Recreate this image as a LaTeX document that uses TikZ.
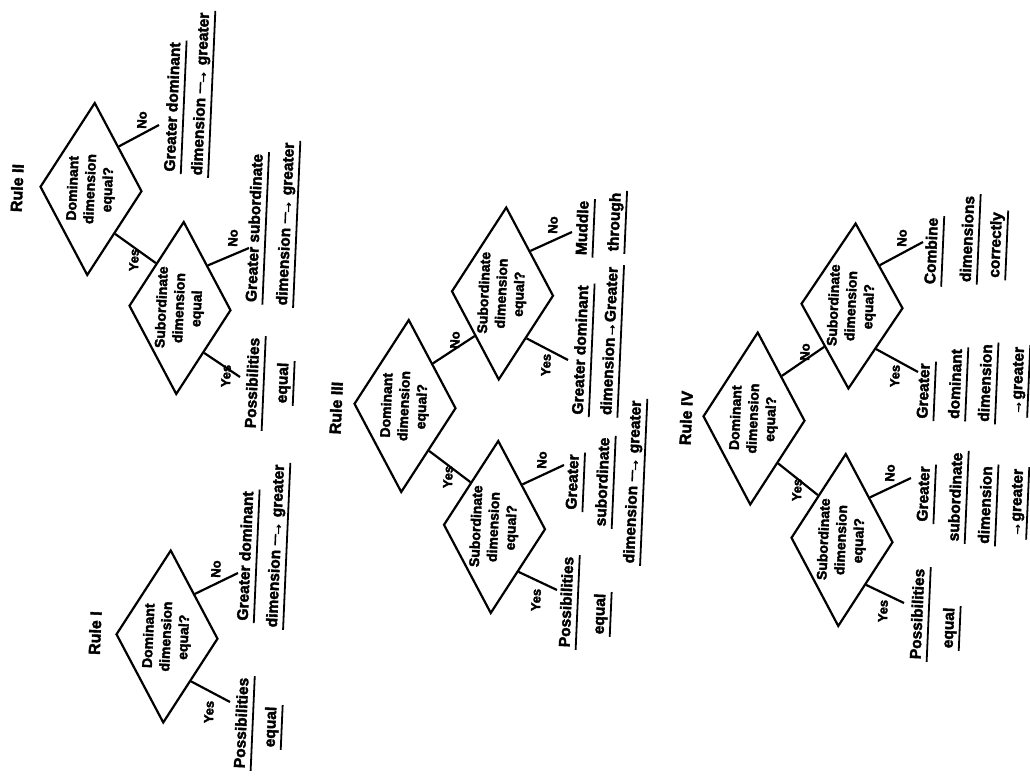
\documentclass[tikz,border=0pt]{standalone}
\usepackage{fontspec}
\setmainfont{Liberation Sans}[BoldFeatures={FakeBold=2.5}]
\usetikzlibrary{shapes.geometric}
\newcommand{\longto}{\rule[0.3em]{0.75em}{0.1em}\kern-0.2em→}

\begin{document}
\begin{tikzpicture}[x=1pt,y=-1pt,
	decision/.style={diamond, draw, line width=2.2pt, rotate=87.5, aspect=1.7, inner sep=0pt,
		minimum width=173pt, minimum height=102pt, align=center,
		font=\bfseries\fontsize{14}{17.5}\selectfont},
	answer/.style={rotate=87.5, inner sep=0pt, font=\bfseries\fontsize{13}{15}\selectfont},
	rulename/.style={rotate=87.5, inner sep=0pt, font=\bfseries\fontsize{16}{18}\selectfont},
	result/.style={rotate=87.5, inner xsep=2pt, inner ysep=2pt, text height=11pt, text depth=4pt,
		font=\bfseries\fontsize{15.5}{18}\selectfont,
		append after command={(\tikzlastnode.south west) edge[line width=1.8pt] (\tikzlastnode.south east)}},
	branch/.style={line width=2.2pt}]
	\useasboundingbox (0,0) rectangle (1030,779);

	% Rule I
	\node (R1) at ( 95, 633)	[rulename]	{Rule I};
	\node (D1) at (167, 636.5)	[decision]	{Dominant\\dimension\\equal?};
	\coordinate (c1y) at (230, 702);
	\coordinate (c1n) at (238, 573);
	\draw[branch] (D1.south west) -- (c1y);
	\draw[branch] (D1.south east) -- (c1n);
	\node (y1) at (209, 712)	[answer]	{Yes};
	\node (n1) at (216, 569)	[answer]	{No};
	\node (o1a) at (243, 723)	[result]	{Possibilities};
	\node (o1b) at (272, 727)	[result]	{equal};
	\node (o1c) at (247, 556)	[result]	{Greater dominant};
	\node (o1d) at (277, 546)	[result]	{dimension \longto\ greater};

	% Rule II
	\node (R2) at ( 17, 188)	[rulename]	{Rule II};
	\node (D2) at ( 91, 189)	[decision]	{Dominant\\dimension\\equal?};
	\node (S2) at (180, 308)	[decision]	{Subordinate\\dimension\\equal};
	\coordinate (c2n) at (159, 125);
	\coordinate (c2sn) at (249, 248);
	\coordinate (c2sy) at (240, 377);
	\draw[branch] (D2.south east) -- (c2n);
	\draw[branch] (D2.south west) -- (S2.north east);
	\draw[branch] (S2.south east) -- (c2sn);
	\draw[branch] (S2.south west) -- (c2sy);
	\node (n2a) at (142, 120)	[answer]	{No};
	\node (y2a) at (134, 260)	[answer]	{Yes};
	\node (n2b) at (233, 238)	[answer]	{No};
	\node (y2b) at (226, 376)	[answer]	{Yes};
	\node (o2a) at (174, 107)	[result]	{Greater dominant};
	\node (o2b) at (202,  94)	[result]	{dimension \longto\ greater};
	\node (o2c) at (256, 228)	[result]	{Greater subordinate};
	\node (o2d) at (287, 224)	[result]	{dimension \longto\ greater};
	\node (o2e) at (254, 383)	[result]	{Possibilities};
	\node (o2f) at (284, 383)	[result]	{equal};

	% Rule III
	\node (R3) at (336, 408)	[rulename]	{Rule III};
	\node (D3) at (405, 406)	[decision]	{Dominant\\dimension\\equal?};
	\node (S3n) at (502.5, 293.5)	[decision]	{Subordinate\\dimension\\equal?};
	\node (S3y) at (494.5, 527)	[decision]	{Subordinate\\dimension\\equal?};
	\coordinate (c3nn) at (572, 232);
	\coordinate (c3ny) at (568, 360);
	\coordinate (c3yn) at (564, 465);
	\coordinate (c3yy) at (557, 590);
	\draw[branch] (D3.south east) -- (S3n.north west);
	\draw[branch] (D3.south west) -- (S3y.north east);
	\draw[branch] (S3n.south east) -- (c3nn);
	\draw[branch] (S3n.south west) -- (c3ny);
	\draw[branch] (S3y.south east) -- (c3yn);
	\draw[branch] (S3y.south west) -- (c3yy);
	\node (n3a) at (455, 340)	[answer]	{No};
	\node (y3a) at (448, 477)	[answer]	{Yes};
	\node (n3b) at (553, 225)	[answer]	{No};
	\node (y3b) at (546, 365)	[answer]	{Yes};
	\node (n3c) at (542, 460)	[answer]	{No};
	\node (y3c) at (536, 600)	[answer]	{Yes};
	\node (o3a) at (584, 228)	[result]	{Muddle};
	\node (o3b) at (616, 222)	[result]	{through};
	\node (o3c) at (582, 350)	[result]	{Greater dominant};
	\node (o3d) at (611, 341)	[result]	{dimension→Greater};
	\node (o3e) at (574, 482)	[result]	{Greater};
	\node (o3f) at (604, 482)	[result]	{subordinate};
	\node (o3g) at (634, 482)	[result]	{dimension \longto\ greater};
	\node (o3h) at (568, 602)	[result]	{Possibilities};
	\node (o3i) at (601, 614)	[result]	{equal};

	% Rule IV
	\node (R4) at (686, 418)	[rulename]	{Rule IV};
	\node (D4) at (754, 418.5)	[decision]	{Dominant\\dimension\\equal?};
	\node (S4n) at (852, 306)	[decision, minimum width=166pt]	{Subordinate\\dimension\\equal?};
	\node (S4y) at (842, 540)	[decision]	{Subordinate\\dimension\\equal?};
	\coordinate (c4nn) at (923, 242);
	\coordinate (c4ny) at (918, 372);
	\coordinate (c4yn) at (911, 478);
	\coordinate (c4yy) at (904, 603);
	\draw[branch] (D4.south east) -- (S4n.north west);
	\draw[branch] (D4.south west) -- (S4y.north east);
	\draw[branch] (S4n.south east) -- (c4nn);
	\draw[branch] (S4n.south west) -- (c4ny);
	\draw[branch] (S4y.south east) -- (c4yn);
	\draw[branch] (S4y.south west) -- (c4yy);
	\node (n4a) at (805, 352)	[answer]	{No};
	\node (y4a) at (797, 490)	[answer]	{Yes};
	\node (n4b) at (902, 238)	[answer]	{No};
	\node (y4b) at (895, 376)	[answer]	{Yes};
	\node (n4c) at (890, 473)	[answer]	{No};
	\node (y4c) at (883, 611)	[answer]	{Yes};
	\node (o4a) at (933, 251)	[result]	{Combine};
	\node (o4b) at (969, 239)	[result]	{dimensions};
	\node (o4c) at (997, 245)	[result]	{correctly};
	\node (o4d) at (925, 391)	[result]	{Greater};
	\node (o4e) at (957, 384)	[result]	{dominant};
	\node (o4f) at (987, 383)	[result]	{dimension};
	\node (o4g) at (1019, 381)	[result]	{→greater};
	\node (o4h) at (925, 494)	[result]	{Greater};
	\node (o4i) at (957, 497)	[result]	{subordinate};
	\node (o4j) at (987, 505)	[result]	{dimension};
	\node (o4k) at (1018, 503)	[result]	{→greater};
	\node (o4l) at (919, 614)	[result]	{Possibilities};
	\node (o4m) at (950, 628)	[result]	{equal};
\end{tikzpicture}
\end{document}
